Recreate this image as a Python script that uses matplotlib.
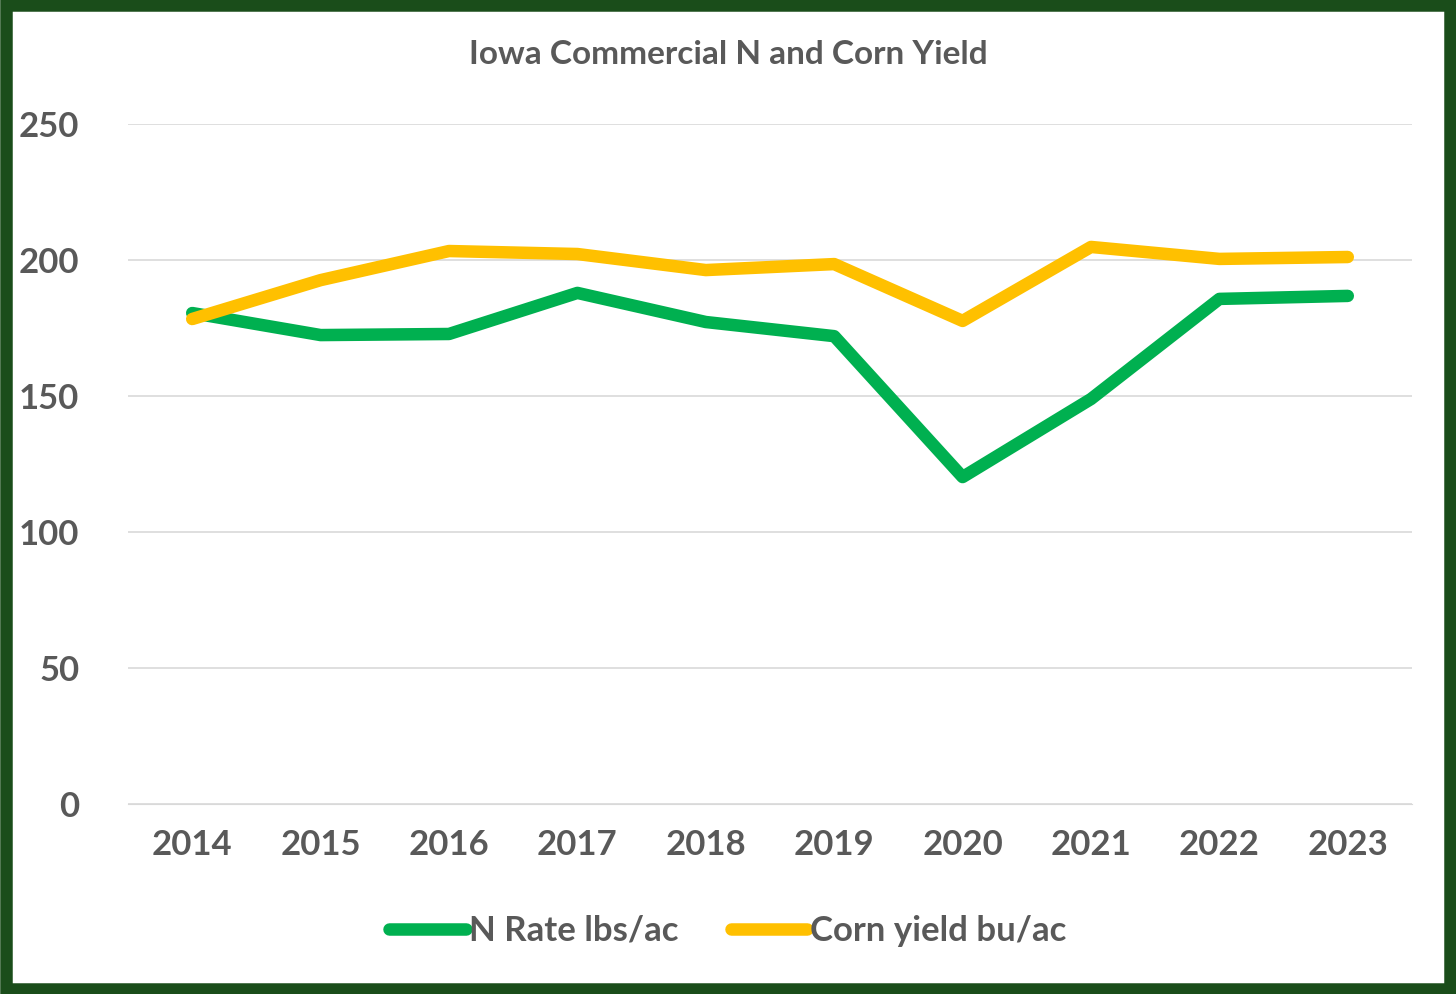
import matplotlib.pyplot as plt
from matplotlib.patches import Rectangle

years = ['2014', '2015', '2016', '2017', '2018', '2019', '2020', '2021', '2022', '2023']
n_rate = [180.5, 172.4, 172.8, 187.9, 177.2, 172.0, 120.2, 148.9, 185.7, 186.8]
corn_yield = [178.3, 192.6, 203.3, 202.2, 196.3, 198.5, 177.6, 204.8, 200.4, 201.1]

plt.rcParams['font.family'] = ['Lato', 'DejaVu Sans']
gray = '#595959'

fig = plt.figure(figsize=(14.56, 9.94), dpi=100)
ax = fig.add_axes([128 / 1456, 1 - 804 / 994, (1412 - 128) / 1456, (804 - 124) / 994])

x = range(len(years))
ax.plot(x, n_rate, color='#00b050', lw=9, solid_capstyle='round', solid_joinstyle='round', label='N Rate lbs/ac')
ax.plot(x, corn_yield, color='#ffc000', lw=9, solid_capstyle='round', solid_joinstyle='round', label='Corn yield bu/ac')

ax.set_ylim(0, 250)
ax.set_yticks(range(0, 251, 50))
ax.set_xlim(-0.5, len(years) - 0.5)
ax.set_xticks(list(x))
ax.set_xticklabels(years)
ax.grid(axis='y', color='#d9d9d9', lw=1.2)
ax.set_axisbelow(True)
for s in ax.spines.values():
    s.set_visible(False)
ax.spines['bottom'].set_visible(True)
ax.spines['bottom'].set_color('#d9d9d9')
ax.tick_params(length=0, labelsize=25, labelcolor=gray, pad=18)
ax.tick_params(axis='y', pad=35)
for t in ax.get_xticklabels() + ax.get_yticklabels():
    t.set_fontweight('bold')

fig.text(0.5, 1 - 55 / 994, 'Iowa Commercial N and Corn Yield', ha='center', va='center',
         fontsize=24, fontweight='bold', color=gray)
fig.legend(loc='center', bbox_to_anchor=(0.5, 1 - 931 / 994), ncol=2, frameon=False,
           prop={'size': 25, 'weight': 'bold'}, labelcolor=gray, handlelength=2.2,
           handletextpad=0.1, columnspacing=1.5)

fig.patches.append(Rectangle((0.004, 0.005), 0.992, 0.99, transform=fig.transFigure,
                             fill=False, edgecolor='#1a4d1a', lw=9))
fig.savefig('out.png', dpi=100)
